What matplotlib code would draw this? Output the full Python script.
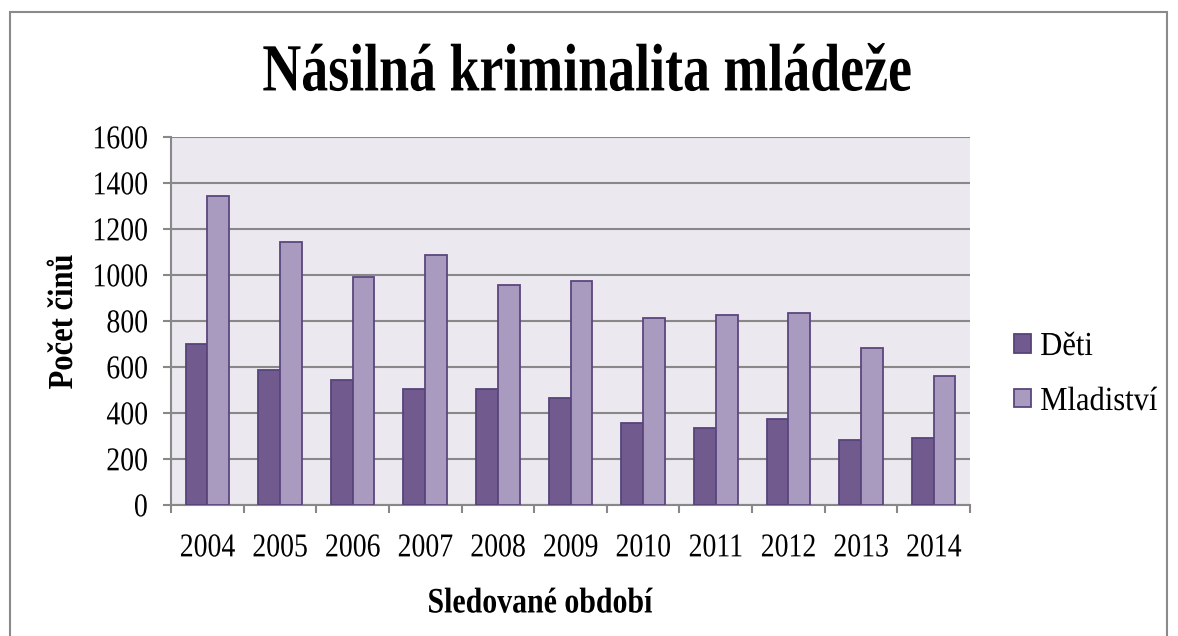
import matplotlib

matplotlib.use("Agg")
import matplotlib.pyplot as plt
import numpy as np
from matplotlib.patches import Rectangle
from matplotlib.patheffects import AbstractPathEffect
from matplotlib.transforms import Affine2D

years = ["2004", "2005", "2006", "2007", "2008", "2009", "2010", "2011", "2012", "2013", "2014"]
deti = [700, 585, 545, 505, 505, 465, 355, 335, 372, 283, 293]
mladistvi = [1345, 1145, 993, 1085, 955, 975, 815, 825, 835, 683, 563]

plt.rcParams["font.family"] = ["Liberation Serif", "DejaVu Serif"]


class Stretch(AbstractPathEffect):
    """Draw glyphs taller than normal (the source font is a narrow Times)."""

    def __init__(self, sy, y0=33):
        super().__init__()
        self.sy = sy
        self.y0 = y0

    def draw_path(self, renderer, gc, tpath, affine, rgbFace=None):
        t = Affine2D().translate(0, -self.y0).scale(1, self.sy).translate(0, self.y0)
        renderer.draw_path(gc, tpath, t + affine, rgbFace)


fig = plt.figure(figsize=(11.78, 6.36), dpi=100)
ax = fig.add_axes([171 / 1178, 131 / 636, 799 / 1178, 368 / 636])

# outer chart border
fig.patches.append(Rectangle((10 / 1178, -0.1), 1157 / 1178, 1.1 - 12 / 636,
                             transform=fig.transFigure, fill=False,
                             edgecolor="#8a8a8a", linewidth=1.5))

x = np.arange(len(years))
w = 0.3
ax.set_facecolor("#ebe9ef")
ax.bar(x - w / 2, deti, w, color="#705a8e", edgecolor="#56437a", linewidth=1.3,
       label="Děti", zorder=3)
ax.bar(x + w / 2, mladistvi, w, color="#a99bbf", edgecolor="#5b467c", linewidth=1.3,
       label="Mladiství", zorder=3)

ax.set_ylim(0, 1600)
ax.set_yticks(range(0, 1601, 200))
ax.set_xlim(-0.5, len(years) - 0.5)
ax.set_xticks(x)
ax.set_xticklabels(years)
ax.set_xticks(np.arange(-0.5, len(years)), minor=True)
ax.tick_params(axis="x", which="major", length=0, pad=22, labelsize=20)
ax.tick_params(axis="x", which="minor", length=5.8, width=1.5, color="#888888")
ax.tick_params(axis="y", length=5.8, width=1.5, color="#888888", labelsize=20, pad=11)
ax.grid(axis="y", color="#888888", linewidth=1.5, zorder=0)
ax.set_axisbelow(True)
for lab in ax.get_xticklabels() + ax.get_yticklabels():
    lab.set_path_effects([Stretch(1.2)])

for side in ["top", "right"]:
    ax.spines[side].set_visible(False)
for side in ["left", "bottom"]:
    ax.spines[side].set_color("#888888")
    ax.spines[side].set_linewidth(1.5)

fig.text(587 / 1178, 1 - 73 / 636, "Násilná kriminalita mládeže", ha="center",
         va="center", fontsize=38.8, fontweight="bold", path_effects=[Stretch(1.25)])
fig.text(63 / 1178, 1 - 322 / 636, "Počet činů", rotation=90, ha="center",
         va="center", fontsize=22, fontweight="bold", path_effects=[Stretch(1.15)])
fig.text(540 / 1178, 1 - 603 / 636, "Sledované období", ha="center",
         va="center", fontsize=21.5, fontweight="bold", path_effects=[Stretch(1.2)])

leg = fig.legend(loc="center left", bbox_to_anchor=(1014 / 1178, 1 - 374 / 636),
                 frameon=False, fontsize=22, handlelength=0.56, handleheight=0.56,
                 handletextpad=0.3, labelspacing=0.85, borderpad=0, borderaxespad=0)
for t in leg.get_texts():
    t.set_path_effects([Stretch(1.1)])

fig.savefig("out.png", dpi=100)
